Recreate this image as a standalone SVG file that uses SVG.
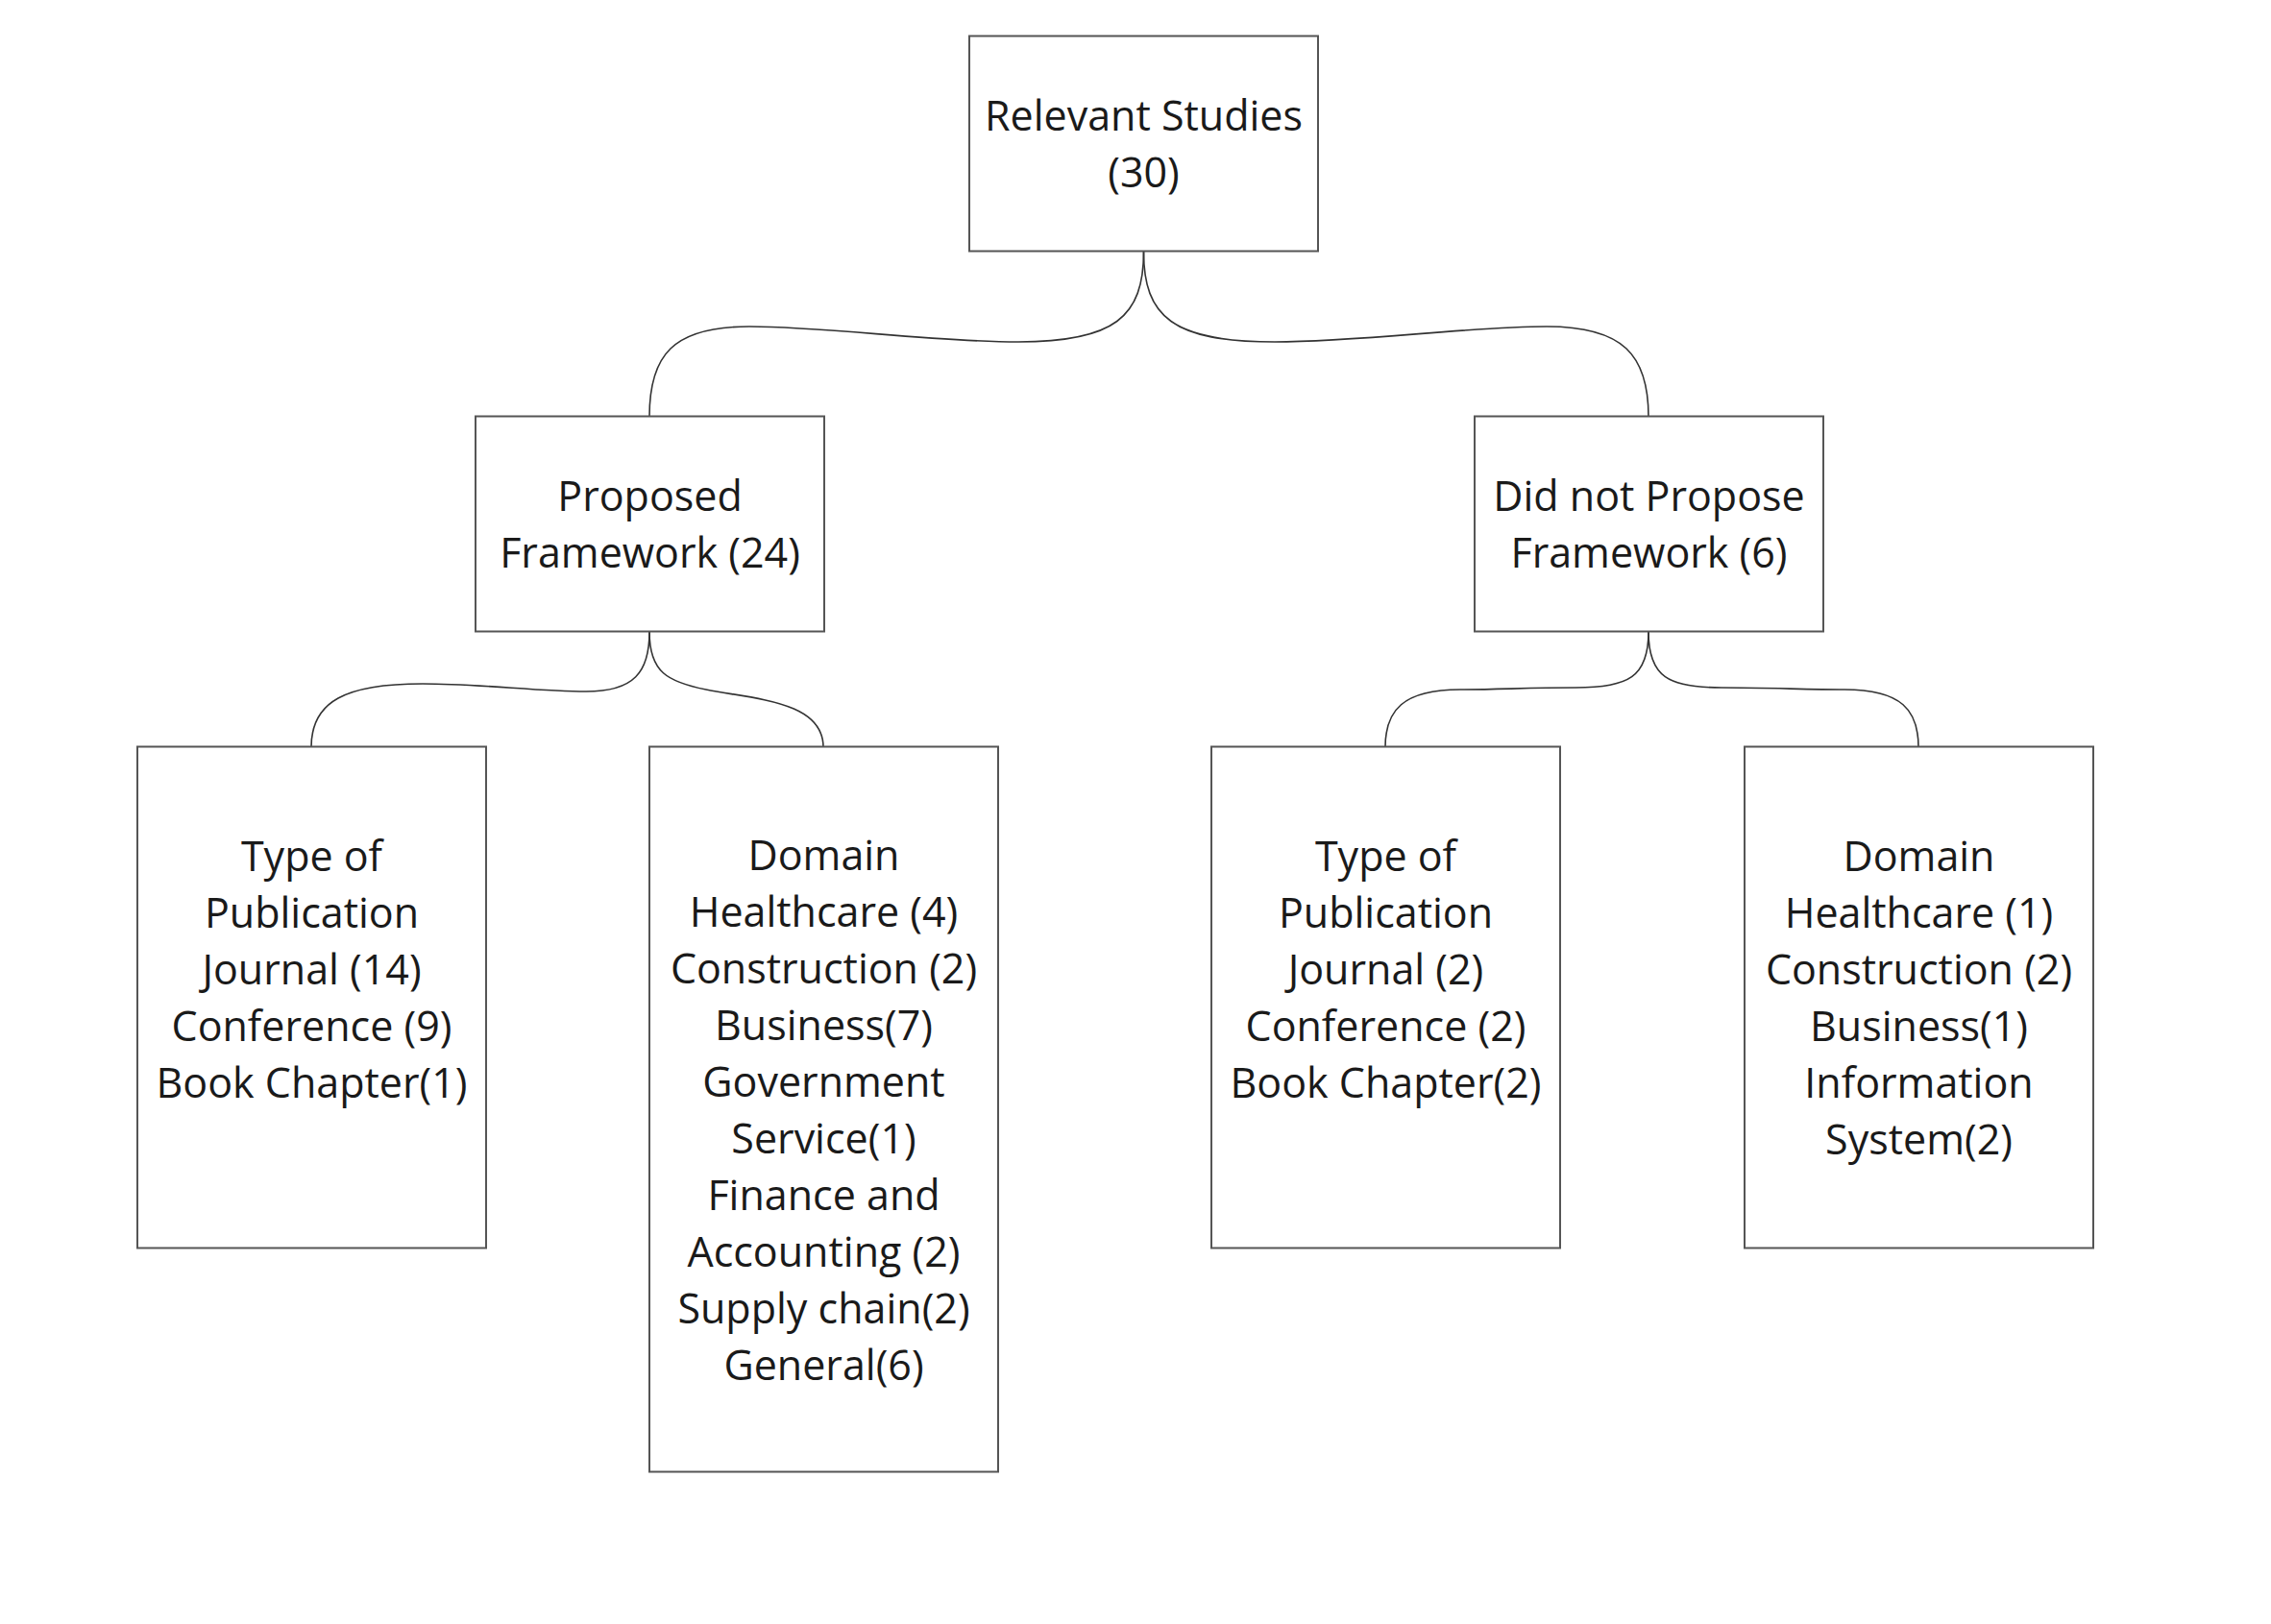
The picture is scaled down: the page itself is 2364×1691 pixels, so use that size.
<svg xmlns="http://www.w3.org/2000/svg" width="2364" height="1691" viewBox="0 0 2364 1691">
<style>
.box{fill:#ffffff;stroke:#555555;stroke-width:2}
.lbl{font-family:"Open Sans","Liberation Sans",sans-serif;font-size:43px;fill:#1a1a1a;text-anchor:middle}
.edge{fill:none;stroke:#333333;stroke-width:1.6}
</style>
<rect width="2364" height="1691" fill="#ffffff"/>
<g id="connectors">
<path class="edge" d="M1190.5,262 C1190.5,330 1160,356 1060,356 C970,356 860,340 780,340 C700,340 676,370 676,434"/>
<path class="edge" d="M1190.5,262 C1190.5,330 1221,356 1327,356 C1417,356 1530,340 1610,340 C1690,340 1716,370 1716,434"/>
<path class="edge" d="M676,658 C676,700 660,720 610,720 C560,720 500,712 440,712 C360,712 324,730 324,778"/>
<path class="edge" d="M676,658 C676,700 695,710 735,718 C785,728 857,730 857,778"/>
<path class="edge" d="M1716,658 C1716,705 1695,716 1640,716 C1590,716 1560,718 1520,718 C1460,718 1442,740 1442,778"/>
<path class="edge" d="M1716,658 C1716,705 1737,716 1792,716 C1842,716 1880,718 1920,718 C1980,718 1997,740 1997,778"/>
</g>
<g id="root">
<rect class="box" x="1009" y="37.5" width="363" height="224"/>
<text class="lbl" x="1190.5" y="136">Relevant Studies</text>
<text class="lbl" x="1190.5" y="195">(30)</text>
</g>
<g id="proposed">
<rect class="box" x="495" y="433.5" width="363" height="224"/>
<text class="lbl" x="676.5" y="532">Proposed</text>
<text class="lbl" x="676.5" y="591">Framework (24)</text>
</g>
<g id="notproposed">
<rect class="box" x="1535" y="433.5" width="363" height="224"/>
<text class="lbl" x="1716.5" y="532">Did not Propose</text>
<text class="lbl" x="1716.5" y="591">Framework (6)</text>
</g>
<g id="type-left">
<rect class="box" x="143" y="777.5" width="363" height="522"/>
<text class="lbl" x="324.5" y="907">Type of</text>
<text class="lbl" x="324.5" y="966">Publication</text>
<text class="lbl" x="324.5" y="1025">Journal (14)</text>
<text class="lbl" x="324.5" y="1084">Conference (9)</text>
<text class="lbl" x="324.5" y="1143">Book Chapter(1)</text>
</g>
<g id="domain-left">
<rect class="box" x="676" y="777.5" width="363" height="755"/>
<text class="lbl" x="857.5" y="906">Domain</text>
<text class="lbl" x="857.5" y="965">Healthcare (4)</text>
<text class="lbl" x="857.5" y="1024">Construction (2)</text>
<text class="lbl" x="857.5" y="1083">Business(7)</text>
<text class="lbl" x="857.5" y="1142">Government</text>
<text class="lbl" x="857.5" y="1201">Service(1)</text>
<text class="lbl" x="857.5" y="1260">Finance and</text>
<text class="lbl" x="857.5" y="1319">Accounting (2)</text>
<text class="lbl" x="857.5" y="1378">Supply chain(2)</text>
<text class="lbl" x="857.5" y="1437">General(6)</text>
</g>
<g id="type-right">
<rect class="box" x="1261" y="777.5" width="363" height="522"/>
<text class="lbl" x="1442.5" y="907">Type of</text>
<text class="lbl" x="1442.5" y="966">Publication</text>
<text class="lbl" x="1442.5" y="1025">Journal (2)</text>
<text class="lbl" x="1442.5" y="1084">Conference (2)</text>
<text class="lbl" x="1442.5" y="1143">Book Chapter(2)</text>
</g>
<g id="domain-right">
<rect class="box" x="1816" y="777.5" width="363" height="522"/>
<text class="lbl" x="1997.5" y="907">Domain</text>
<text class="lbl" x="1997.5" y="966">Healthcare (1)</text>
<text class="lbl" x="1997.5" y="1025">Construction (2)</text>
<text class="lbl" x="1997.5" y="1084">Business(1)</text>
<text class="lbl" x="1997.5" y="1143">Information</text>
<text class="lbl" x="1997.5" y="1202">System(2)</text>
</g>
</svg>
